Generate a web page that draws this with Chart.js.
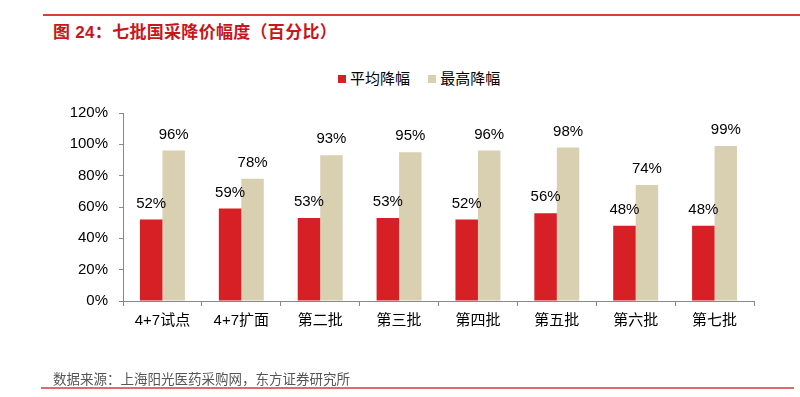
<!DOCTYPE html>
<html>
<head>
<meta charset="utf-8">
<script src="https://cdn.jsdelivr.net/npm/chart.js@4.4.0/dist/chart.umd.min.js"></script>
<style>
    html, body { margin: 0; padding: 0; background: #fff; }
    body { width: 800px; height: 397px; position: relative; overflow: hidden;
           font-family: "Liberation Sans", "Noto Sans CJK SC", sans-serif; }
    #linea-top { position: absolute; left: 43px; top: 14px; width: 757px; height: 2px; background: #e0393e; }
    #titulo { position: absolute; left: 53px; top: 18px; font-size: 17px; letter-spacing: 0.3px; font-weight: bold; color: #c8161d; white-space: nowrap; }
    #leyenda { position: absolute; left: 338px; top: 67px; font-size: 15px; color: #000; white-space: nowrap; }
    #leyenda span.caja { display: inline-block; width: 8px; height: 8px; margin-right: 4px; vertical-align: 1px; }
    #leyenda span.item { margin-right: 14px; }
    #fuente { position: absolute; left: 53px; top: 368px; font-size: 13.5px; color: #555; white-space: nowrap; }
    #linea-bottom { position: absolute; left: 41px; top: 387px; width: 753px; height: 2px; background: #e06a6d; }
    #wrap { position: absolute; left: 0; top: 0; width: 800px; height: 397px; }
</style>
</head>
<body>
<div id="linea-top"></div>
<div id="titulo">图 24：七批国采降价幅度（百分比）</div>
<div id="leyenda">
    <span class="item"><span class="caja" style="background:#d71f26"></span>平均降幅</span>
    <span class="item"><span class="caja" style="background:#d9cfb1"></span>最高降幅</span>
</div>
<div id="wrap"><canvas id="grafico" width="800" height="397"></canvas></div>
<div id="fuente">数据来源：上海阳光医药采购网，东方证券研究所</div>
<div id="linea-bottom"></div>

<script>
// Datos del gráfico
const categorias = ['4+7试点', '4+7扩面', '第二批', '第三批', '第四批', '第五批', '第六批', '第七批'];
const promedioDescuento = [52, 59, 53, 53, 52, 56, 48, 48];
const maximoDescuento = [96, 78, 93, 95, 96, 98, 74, 99];
const ticksY = [0, 20, 40, 60, 80, 100, 120];

const fuente = '"Liberation Sans", "Noto Sans CJK SC", sans-serif';

// Etiquetas de valor encima de cada barra
const etiquetasPlugin = {
    id: 'etiquetas',
    afterDatasetsDraw(chart) {
        const ctx = chart.ctx;
        ctx.save();
        ctx.font = '15px ' + fuente;
        ctx.fillStyle = '#000';
        ctx.textAlign = 'center';
        ctx.textBaseline = 'middle';
        chart.data.datasets.forEach(function (ds, i) {
            chart.getDatasetMeta(i).data.forEach(function (bar, j) {
                ctx.fillText(ds.data[j] + '%', bar.x, bar.y - 16);
            });
        });
        ctx.restore();
    }
};

new Chart(document.getElementById('grafico'), {
    type: 'bar',
    data: {
        labels: categorias,
        datasets: [{
            label: '平均降幅',
            data: promedioDescuento,
            backgroundColor: '#d71f26',
            categoryPercentage: 0.57,
            barPercentage: 1
        }, {
            label: '最高降幅',
            data: maximoDescuento,
            backgroundColor: '#d9cfb1',
            categoryPercentage: 0.57,
            barPercentage: 1
        }]
    },
    options: {
        responsive: false,
        animation: false,
        layout: { padding: { left: 40, right: 46, top: 113, bottom: 56 } },
        plugins: {
            legend: { display: false },
            tooltip: { enabled: false }
        },
        scales: {
            x: {
                grid: { offset: true, drawOnChartArea: false, tickLength: 5, color: '#888' },
                border: { color: '#888' },
                ticks: { color: '#000', font: { size: 15, family: fuente }, padding: 6 },
                afterFit: function (s) { s.height = 40; }
            },
            y: {
                min: 0,
                max: 120,
                afterBuildTicks: function (s) { s.ticks = ticksY.map(v => ({ value: v })); },
                grid: { drawOnChartArea: false, tickLength: 4, color: '#888' },
                border: { color: '#888' },
                ticks: {
                    color: '#000',
                    font: { size: 15, family: fuente },
                    padding: 11,
                    callback: function (v) { return v + '%'; }
                },
                afterFit: function (s) { s.width = 83; }
            }
        }
    },
    plugins: [etiquetasPlugin]
});
</script>
</body>
</html>
